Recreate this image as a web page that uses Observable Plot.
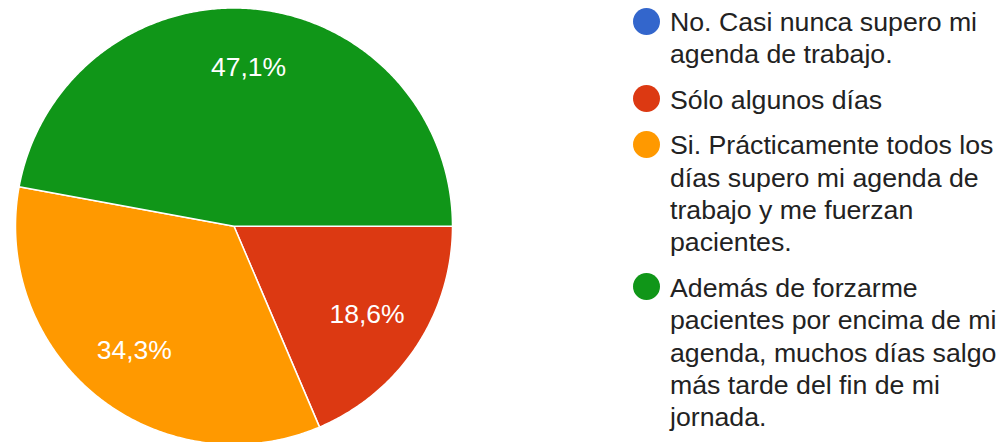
<!DOCTYPE html>
<html>
<head>
<meta charset="utf-8">
<script src="https://cdn.jsdelivr.net/npm/d3@7"></script>
<script src="https://cdn.jsdelivr.net/npm/@observablehq/plot@0.6"></script>
<style>
  html, body { margin: 0; padding: 0; background: #fff; }
  #wrap { position: relative; width: 1001px; height: 442px; overflow: hidden; font-family: Arial, "Liberation Sans", sans-serif; }
  #pie { position: absolute; left: 0; top: 0; }
  #legend { position: absolute; left: 633px; top: 6px; width: 368px; }
  .item { display: flex; align-items: flex-start; margin-bottom: 13px; }
  .dot { width: 27px; height: 27px; border-radius: 50%; flex: none; margin-top: 1.5px; margin-right: 10px; }
  .txt { font-size: 26.7px; line-height: 32.4px; color: #222222; white-space: pre; }
</style>
</head>
<body>
<div id="wrap">
  <div id="pie"></div>
  <div id="legend"></div>
</div>
<script>
// Data
const categories = [
  "No. Casi nunca supero mi agenda de trabajo.",
  "Sólo algunos días",
  "Si. Prácticamente todos los días supero mi agenda de trabajo y me fuerzan pacientes.",
  "Además de forzarme pacientes por encima de mi agenda, muchos días salgo más tarde del fin de mi jornada."
];
const legendLines = [
  "No. Casi nunca supero mi\nagenda de trabajo.",
  "Sólo algunos días",
  "Si. Prácticamente todos los\ndías supero mi agenda de\ntrabajo y me fuerzan\npacientes.",
  "Además de forzarme\npacientes por encima de mi\nagenda, muchos días salgo\nmás tarde del fin de mi\njornada."
];
const percents = [0, 18.6, 34.3, 47.1];
const percentLabels = ["0%", "18,6%", "34,3%", "47,1%"];
const colors = ["#3366cc", "#dc3912", "#ff9900", "#109618"];

// Build slice polygons (clockwise from east)
const total = d3.sum(percents);
const polys = [];
const labels = [];
let cum = 0;
percents.forEach((p, i) => {
  const a0 = cum / total * 2 * Math.PI;
  const a1 = (cum + p) / total * 2 * Math.PI;
  cum += p;
  if (p <= 0) return;
  polys.push({cat: categories[i], x: 0, y: 0});
  const n = Math.max(2, Math.ceil((a1 - a0) / (Math.PI / 360)));
  for (let k = 0; k <= n; k++) {
    const a = a0 + (a1 - a0) * k / n;
    polys.push({cat: categories[i], x: Math.cos(a), y: -Math.sin(a)});
  }
  const am = (a0 + a1) / 2;
  const r = 0.73;
  labels.push({cat: categories[i], label: percentLabels[i], x: r * Math.cos(am), y: -r * Math.sin(am)});
});

const chart = Plot.plot({
  width: 470,
  height: 442,
  x: {domain: [-1, 1], range: [15, 452], axis: null},
  y: {domain: [-1, 1], range: [444, 7.5], axis: null},
  color: {domain: categories, range: colors},
  marks: [
    Plot.line(polys, {x: "x", y: "y", z: "cat", fill: "cat", stroke: "#ffffff", strokeWidth: 1.5, curve: "linear-closed"}),
    Plot.text(labels, {x: "x", y: "y", text: "label", fill: "#ffffff", fontSize: 26.5, fontFamily: "Arial, 'Liberation Sans', sans-serif"})
  ]
});
document.getElementById("pie").appendChild(chart);

// Legend
const legend = d3.select("#legend");
categories.forEach((c, i) => {
  const item = legend.append("div").attr("class", "item");
  item.append("div").attr("class", "dot").style("background", colors[i]);
  item.append("div").attr("class", "txt").text(legendLines[i]);
});
</script>
</body>
</html>
